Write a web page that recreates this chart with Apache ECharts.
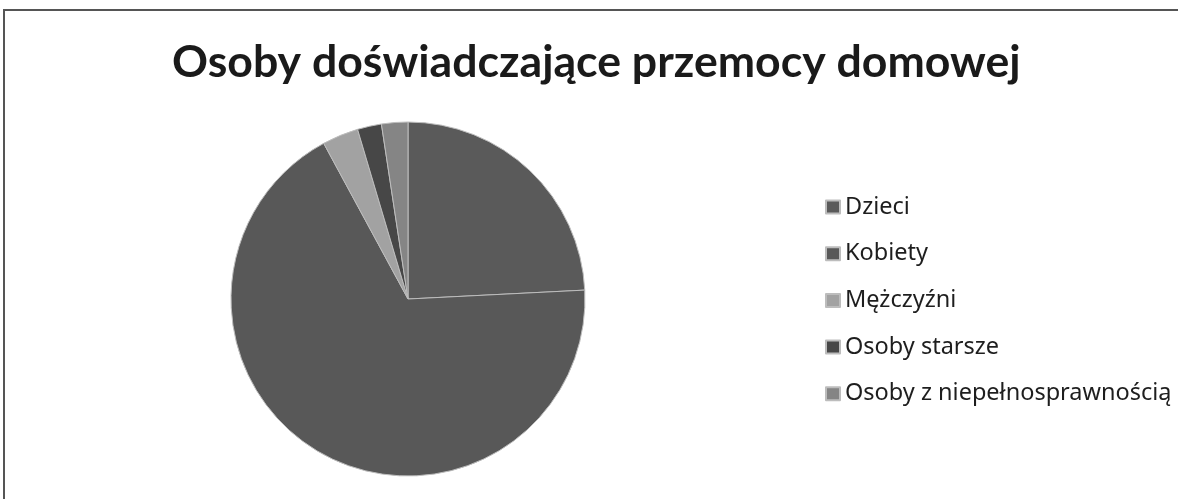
<!DOCTYPE html>
<html>
<head>
<meta charset="utf-8">
<script src="https://cdn.jsdelivr.net/npm/echarts@6/dist/echarts.min.js"></script>
<style>
  html, body { margin: 0; padding: 0; background: #fff; }
  #chart { width: 1178px; height: 499px; }
</style>
</head>
<body>
<div id="chart"></div>
<script>
// dane (udział w %)
var categories = ['Dzieci', 'Kobiety', 'Mężczyźni', 'Osoby starsze', 'Osoby z niepełnosprawnością'];
var values = [24.2, 67.9, 3.3, 2.2, 2.4];
var colors = ['#5a5a5a', '#585858', '#a2a2a2', '#474747', '#858585'];

var myChart = echarts.init(document.getElementById('chart'));

var pieData = categories.map(function (name, i) {
  return { name: name, value: values[i], itemStyle: { color: colors[i] } };
});

var option = {
  backgroundColor: '#fff',
  animation: false,
  title: {
    text: 'Osoby doświadczające przemocy domowej',
    left: 167,
    top: 35,
    textStyle: {
      fontFamily: 'Lato',
      fontWeight: 'bold',
      fontSize: 44.6,
      color: '#1a1a1a'
    }
  },
  legend: {
    orient: 'vertical',
    left: 820,
    top: 190,
    itemWidth: 14,
    itemHeight: 13,
    itemGap: 22.7,
    icon: 'rect',
    data: categories,
    textStyle: {
      fontFamily: 'Noto Sans',
      fontSize: 23.5,
      lineHeight: 23,
      color: '#1e1e1e',
      padding: [0, 0, 0, 0]
    }
  },
  graphic: [{
    type: 'rect',
    shape: { x: 4, y: 10, width: 1190, height: 520 },
    style: { fill: 'none', stroke: '#555', lineWidth: 2 },
    silent: true,
    z: -1
  }],
  series: [{
    type: 'pie',
    center: [408, 299],
    radius: 177,
    startAngle: 90,
    clockwise: true,
    label: { show: false },
    labelLine: { show: false },
    itemStyle: { borderColor: '#bdbdbd', borderWidth: 1 },
    emphasis: { disabled: true },
    data: pieData
  }]
};

myChart.setOption(option);
</script>
</body>
</html>
